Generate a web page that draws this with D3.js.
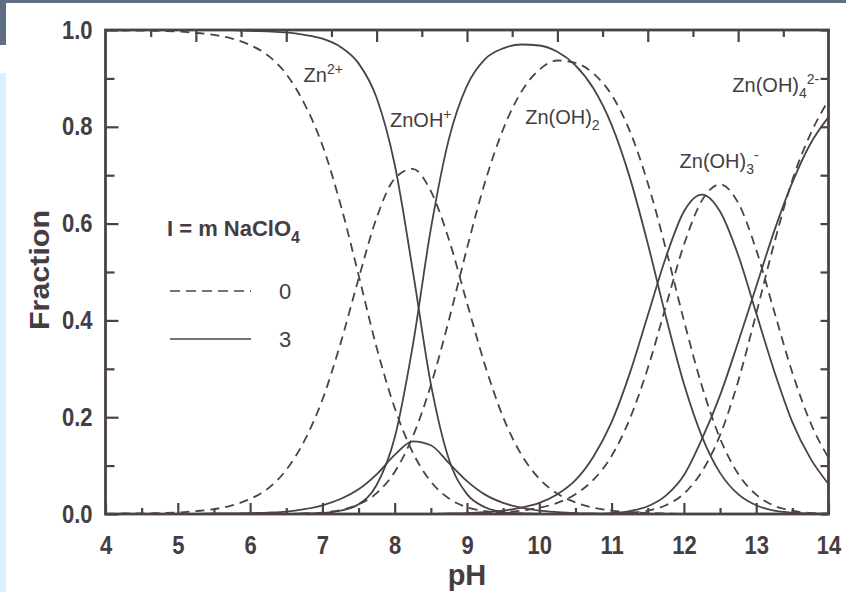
<!DOCTYPE html>
<html>
<head>
<meta charset="utf-8">
<script src="https://cdn.jsdelivr.net/npm/d3@7"></script>
<style>
  html, body { margin: 0; padding: 0; background: #ffffff; }
  svg { display: block; }
</style>
</head>
<body>
<svg id="chart" width="846" height="592"></svg>
<script>
// pH grid shared by every distribution curve
const pH = [4, 4.25, 4.5, 4.75, 5, 5.25, 5.5, 5.75, 6, 6.25, 6.5, 6.75, 7, 7.25, 7.5, 7.75,
            8, 8.25, 8.5, 8.75, 9, 9.25, 9.5, 9.75, 10, 10.25, 10.5, 10.75, 11, 11.25, 11.5, 11.75,
            12, 12.25, 12.5, 12.75, 13, 13.25, 13.5, 13.75, 14];

// Species fractions, I = 0 m NaClO4 (dashed)
const i0Zn    = [1.000, 0.999, 0.999, 0.998, 0.997, 0.994, 0.990, 0.982, 0.969, 0.947, 0.909, 0.848, 0.762, 0.640, 0.494, 0.344,
                 0.219, 0.127, 0.067, 0.032, 0.014, 0.006, 0.002, 0.001, 0, 0, 0, 0, 0, 0, 0, 0,
                 0, 0, 0, 0, 0, 0, 0, 0, 0];
const i0ZnOH  = [0.000, 0.001, 0.001, 0.002, 0.003, 0.006, 0.010, 0.018, 0.031, 0.053, 0.091, 0.151, 0.236, 0.352, 0.486, 0.612,
                 0.693, 0.713, 0.667, 0.567, 0.436, 0.307, 0.200, 0.123, 0.073, 0.042, 0.024, 0.013, 0.007, 0.004, 0.002, 0.001,
                 0, 0, 0, 0, 0, 0, 0, 0, 0];
const i0ZnOH2 = [0, 0, 0, 0, 0, 0, 0, 0, 0, 0, 0, 0.001, 0.003, 0.008, 0.020, 0.043,
                 0.087, 0.160, 0.266, 0.401, 0.549, 0.686, 0.795, 0.872, 0.918, 0.937, 0.932, 0.910, 0.866, 0.792, 0.684, 0.548,
                 0.400, 0.264, 0.156, 0.083, 0.040, 0.017, 0.007, 0.002, 0.001];
const i0ZnOH3 = [0, 0, 0, 0, 0, 0, 0, 0, 0, 0, 0, 0, 0, 0, 0, 0,
                 0, 0, 0, 0, 0.001, 0.002, 0.004, 0.007, 0.013, 0.023, 0.041, 0.071, 0.120, 0.196, 0.301, 0.429,
                 0.556, 0.648, 0.681, 0.643, 0.546, 0.418, 0.292, 0.189, 0.116];
const i0ZnOH4 = [0, 0, 0, 0, 0, 0, 0, 0, 0, 0, 0, 0, 0, 0, 0, 0,
                 0, 0, 0, 0, 0, 0, 0, 0, 0, 0, 0, 0, 0.001, 0.003, 0.007, 0.018,
                 0.042, 0.088, 0.163, 0.274, 0.414, 0.560, 0.690, 0.785, 0.855];

// Species fractions, I = 3 m NaClO4 (solid)
const i3Zn    = [1.000, 1.000, 1.000, 1.000, 1.000, 1.000, 1.000, 1.000, 0.998, 0.997, 0.995, 0.990, 0.982, 0.965, 0.931, 0.860,
                 0.722, 0.503, 0.269, 0.113, 0.041, 0.014, 0.004, 0.001, 0, 0, 0, 0, 0, 0, 0, 0,
                 0, 0, 0, 0, 0, 0, 0, 0, 0];
const i3ZnOH  = [0, 0, 0, 0, 0, 0, 0.001, 0.001, 0.002, 0.003, 0.005, 0.010, 0.018, 0.031, 0.051, 0.082,
                 0.122, 0.150, 0.142, 0.105, 0.068, 0.040, 0.023, 0.013, 0.007, 0.004, 0.002, 0.001, 0, 0, 0, 0,
                 0, 0, 0, 0, 0, 0, 0, 0, 0];
const i3ZnOH2 = [0, 0, 0, 0, 0, 0, 0, 0, 0, 0, 0, 0.001, 0.002, 0.007, 0.020, 0.060,
                 0.158, 0.348, 0.589, 0.775, 0.885, 0.940, 0.962, 0.970, 0.968, 0.955, 0.927, 0.879, 0.804, 0.696, 0.559, 0.408,
                 0.269, 0.160, 0.085, 0.041, 0.018, 0.007, 0.003, 0.001, 0];
const i3ZnOH3 = [0, 0, 0, 0, 0, 0, 0, 0, 0, 0, 0, 0, 0, 0, 0, 0,
                 0, 0, 0, 0.001, 0.002, 0.004, 0.007, 0.013, 0.023, 0.041, 0.070, 0.119, 0.190, 0.290, 0.410, 0.530,
                 0.625, 0.660, 0.625, 0.535, 0.415, 0.295, 0.190, 0.115, 0.062];
const i3ZnOH4 = [0, 0, 0, 0, 0, 0, 0, 0, 0, 0, 0, 0, 0, 0, 0, 0,
                 0, 0, 0, 0, 0, 0, 0, 0, 0, 0, 0, 0, 0.002, 0.006, 0.016, 0.038,
                 0.080, 0.155, 0.245, 0.355, 0.470, 0.585, 0.685, 0.765, 0.820];

// Axis ticks
const xMajor = [4, 5, 6, 7, 8, 9, 10, 11, 12, 13, 14];
const xMinor = [4.5, 5.5, 6.5, 7.5, 8.5, 9.5, 10.5, 11.5, 12.5, 13.5];
const yMajor = [0, 0.2, 0.4, 0.6, 0.8, 1.0];
const yMinor = [0.1, 0.3, 0.5, 0.7, 0.9];
const topTicks = [1, 2, 3, 4, 5, 6, 7, 8, 9, 10, 11, 12, 13, 14, 15];

// Legend entries
const legendTitle = "I = m NaClO";
const legendItems = [{ label: "0", dashed: true }, { label: "3", dashed: false }];

const INK = "#4c4246";
const TEXT = "#453d41";
const FONT = "'Liberation Sans', Arial, sans-serif";
const NARROW = 0.88;   // horizontal squeeze of the bold tick numerals

const svg = d3.select("#chart");

// page decoration: slate strip and pale side panel
svg.append("rect").attr("x", 0).attr("y", 0).attr("width", 846).attr("height", 3).attr("fill", "#5f6f82");
svg.append("rect").attr("x", 0).attr("y", 0).attr("width", 6).attr("height", 45).attr("fill", "#5f6f82");
svg.append("rect").attr("x", 0).attr("y", 73).attr("width", 6).attr("height", 519).attr("fill", "#dcefff");

const L = 105.5, R = 828.5, T = 30, B = 514;
const x = d3.scaleLinear().domain([4, 14]).range([L, R]);
const y = d3.scaleLinear().domain([0, 1]).range([B, T]);
const xTop = d3.scaleLinear().domain([0, 16]).range([L, R]);

svg.append("defs").append("clipPath").attr("id", "plot")
  .append("rect").attr("x", L).attr("y", T - 2).attr("width", R - L).attr("height", B - T + 4);

// curves
const series = [
  { v: i0Zn, dashed: true }, { v: i0ZnOH, dashed: true }, { v: i0ZnOH2, dashed: true },
  { v: i0ZnOH3, dashed: true }, { v: i0ZnOH4, dashed: true },
  { v: i3Zn, dashed: false }, { v: i3ZnOH, dashed: false }, { v: i3ZnOH2, dashed: false },
  { v: i3ZnOH3, dashed: false }, { v: i3ZnOH4, dashed: false }
];
const line = d3.line().x((d, i) => x(pH[i])).y(d => y(d)).curve(d3.curveMonotoneX);
svg.append("g").attr("clip-path", "url(#plot)")
  .selectAll("path").data(series).join("path")
  .attr("d", s => line(s.v))
  .attr("fill", "none")
  .attr("stroke", INK)
  .attr("stroke-width", 1.8)
  .attr("stroke-dasharray", s => s.dashed ? "9,6" : null);

// axes
function styleAxis(g) {
  g.select(".domain").remove();
  g.selectAll(".tick line").attr("stroke", INK).attr("stroke-width", 2.2);
  g.selectAll(".tick text").attr("fill", TEXT).attr("font-family", FONT)
    .attr("font-weight", "bold").attr("font-size", 25);
}
svg.append("g").attr("transform", `translate(0,${B})`)
  .call(d3.axisBottom(x).tickValues(xMajor).tickSize(-11).tickPadding(22).tickFormat(d3.format("d")))
  .call(styleAxis)
  .selectAll(".tick text").attr("transform", `scale(${NARROW},1)`);
svg.append("g").attr("transform", `translate(0,${B})`)
  .call(d3.axisBottom(x).tickValues(xMinor).tickSize(-6).tickFormat(""))
  .call(styleAxis);
svg.append("g").attr("transform", `translate(${L},0)`)
  .call(d3.axisLeft(y).tickValues(yMajor).tickSize(-13).tickPadding(13).tickFormat(d3.format(".1f")))
  .call(styleAxis)
  .selectAll(".tick text").attr("x", -13 / NARROW).attr("transform", `scale(${NARROW},1)`);
svg.append("g").attr("transform", `translate(${L},0)`)
  .call(d3.axisLeft(y).tickValues(yMinor).tickSize(-9).tickFormat(""))
  .call(styleAxis);
svg.append("g").attr("transform", `translate(${R},0)`)
  .call(d3.axisRight(y).tickValues(yMajor.concat(yMinor)).tickSize(-8).tickFormat(""))
  .call(styleAxis);
svg.append("g").attr("transform", `translate(0,${T})`)
  .call(d3.axisTop(xTop).tickValues(topTicks).tickSize(-7).tickFormat(""))
  .call(styleAxis)
  .selectAll(".tick line").attr("y2", d => d % 2 === 0 ? 12 : 7);

// frame
svg.append("rect").attr("x", L).attr("y", T).attr("width", R - L).attr("height", B - T)
  .attr("fill", "none").attr("stroke", INK).attr("stroke-width", 2.8);

// axis titles
svg.append("text").attr("transform", `translate(49,${(T + B) / 2 - 2}) rotate(-90)`)
  .attr("text-anchor", "middle").attr("font-family", FONT).attr("font-weight", "bold")
  .attr("font-size", 28).attr("textLength", 120).attr("lengthAdjust", "spacingAndGlyphs")
  .attr("fill", TEXT).text("Fraction");
svg.append("text").attr("x", x(9)).attr("y", 585)
  .attr("text-anchor", "middle").attr("font-family", FONT).attr("font-weight", "bold")
  .attr("font-size", 29).attr("fill", TEXT).text("pH");

// species labels: [text, 0 = base, 1 = subscript, -1 = superscript]
const labels = [
  { parts: [["Zn", 0], ["2+", -1]], ph: 6.74, f: 0.893 },
  { parts: [["ZnOH", 0], ["+", -1]], ph: 7.935, f: 0.800 },
  { parts: [["Zn(OH)", 0], ["2", 1]], ph: 9.805, f: 0.806 },
  { parts: [["Zn(OH)", 0], ["3", 1], ["-", -1]], ph: 11.94, f: 0.715 },
  { parts: [["Zn(OH)", 0], ["4", 1], ["2-", -1]], ph: 12.67, f: 0.872 }
];
labels.forEach(lb => {
  const t = svg.append("text").attr("x", x(lb.ph)).attr("y", y(lb.f))
    .attr("font-family", FONT).attr("font-size", 20).attr("fill", TEXT);
  let shift = 0;
  lb.parts.forEach(([s, k]) => {
    const target = k === -1 ? -8 : (k === 1 ? 6 : 0);
    t.append("tspan").text(s).attr("dy", target - shift)
      .attr("font-size", k === 0 ? 20 : 14);
    shift = target;
  });
});

// legend
const lg = svg.append("g").attr("font-family", FONT).attr("fill", TEXT);
const title = lg.append("text").attr("x", 167).attr("y", 236).attr("font-weight", "bold").attr("font-size", 22);
title.append("tspan").text(legendTitle);
title.append("tspan").text("4").attr("font-size", 16).attr("dy", 7);
legendItems.forEach((it, i) => {
  const yy = 291 + i * 48;
  lg.append("line").attr("x1", 170).attr("x2", 251).attr("y1", yy).attr("y2", yy)
    .attr("stroke", INK).attr("stroke-width", 1.6).attr("stroke-dasharray", it.dashed ? "10,6" : null);
  lg.append("text").attr("x", 285).attr("y", yy + 8).attr("text-anchor", "middle")
    .attr("font-size", 22).text(it.label);
});
</script>
</body>
</html>
